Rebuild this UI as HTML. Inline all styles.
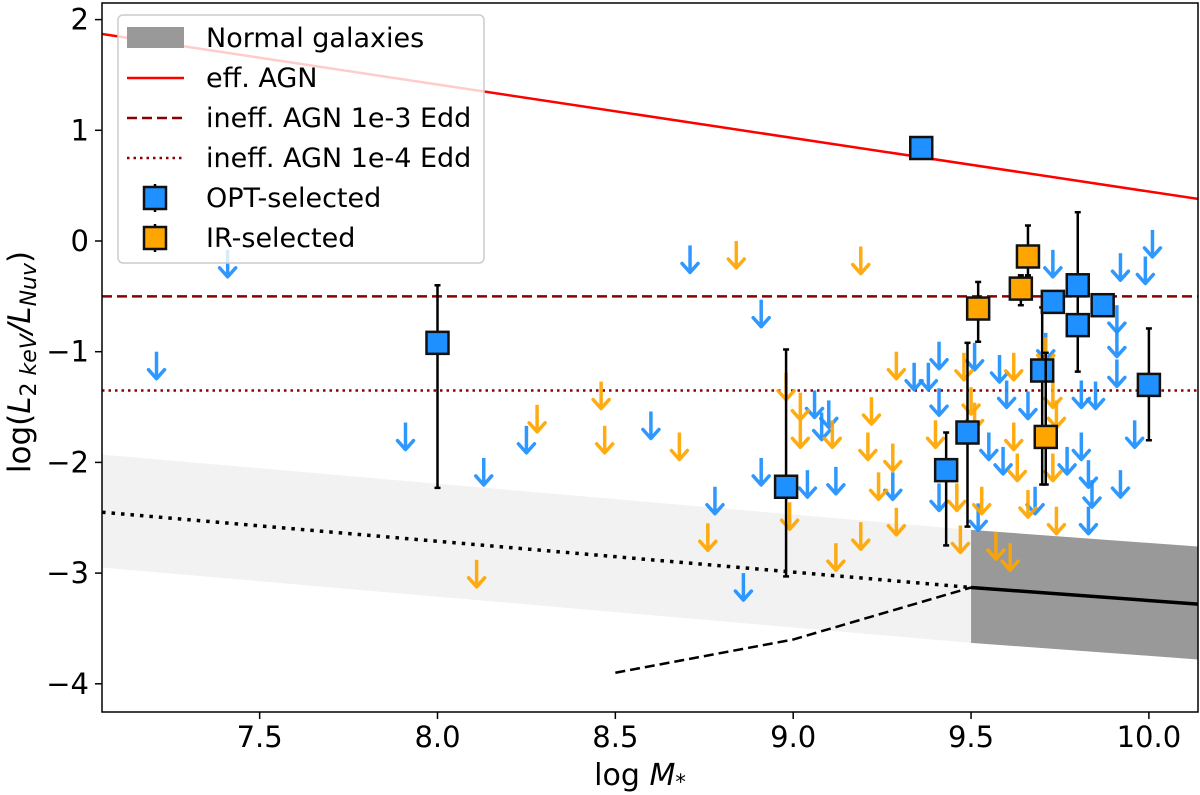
<!DOCTYPE html>
<html><head><meta charset="utf-8"><style>
body{margin:0;background:#fff}
svg text{font-family:"DejaVu Sans","Liberation Sans",sans-serif;fill:#000}
</style></head><body>
<svg id="chart" width="1200" height="795" viewBox="0 0 1200 795" xmlns="http://www.w3.org/2000/svg" style="position:absolute;left:0;top:0">
<defs><clipPath id="clip"><rect x="102" y="3" width="1096" height="709"/></clipPath></defs>
<g id="plot" clip-path="url(#clip)"></g>
<g id="axes"></g>
</svg>
<script>
const xTicks=[7.5,8.0,8.5,9.0,9.5,10.0];
const yTicks=[2,1,0,-1,-2,-3,-4];
const blueLimX=[7.21,7.41,7.91,8.13,8.25,8.60,8.71,8.78,8.91,8.91,9.04,9.12,9.06,9.10,9.08,8.86,9.28,9.34,9.38,9.41,9.41,9.41,9.51,9.55,9.52,9.58,9.60,9.59,9.66,9.68,9.71,9.73,9.77,9.81,9.81,9.83,9.84,9.85,9.83,9.92,9.91,9.91,9.91,9.96,9.92,9.99,10.01];
const blueLimY=[-1.00,-0.08,-1.64,-1.96,-1.67,-1.54,-0.04,-2.22,-0.53,-1.96,-2.07,-2.04,-1.35,-1.44,-1.55,-3.00,-2.09,-1.10,-1.10,-0.91,-1.33,-2.19,-0.92,-1.73,-2.37,-1.03,-1.26,-1.86,-1.36,-2.22,-0.83,-0.08,-1.86,-1.26,-1.73,-1.98,-2.16,-1.27,-2.40,-0.11,-0.58,-0.80,-1.07,-1.62,-2.07,-0.14,0.10];
const orangeLimX=[8.28,8.46,8.47,8.11,8.84,9.19,8.68,8.76,8.98,9.02,9.02,9.11,9.12,9.19,9.22,9.21,9.24,9.28,9.29,9.29,9.40,9.46,9.47,9.48,9.50,9.51,9.53,9.57,9.61,9.62,9.62,9.63,9.66,9.71,9.73,9.74,9.73,9.74,8.99];
const orangeLimY=[-1.48,-1.27,-1.67,-2.88,0.00,-0.05,-1.73,-2.55,-1.19,-1.37,-1.62,-1.62,-2.73,-2.54,-1.41,-1.73,-2.09,-1.83,-1.00,-2.41,-1.62,-2.19,-2.57,-1.01,-1.32,-1.46,-2.22,-2.63,-2.73,-1.01,-1.64,-1.92,-2.25,-0.87,-1.26,-1.44,-1.92,-2.40,-2.36];
const blueX=[8.00,9.36,8.98,9.43,9.49,9.70,9.73,9.80,9.80,9.87,10.00];
const blueY=[-0.92,0.84,-2.22,-2.07,-1.73,-1.17,-0.55,-0.40,-0.76,-0.58,-1.30];
const blueHi=[-0.40,null,-0.98,-1.73,-0.92,-0.60,null,0.26,null,null,-0.79];
const blueLo=[-2.23,null,-3.03,-2.75,-2.58,-2.20,null,-1.18,null,null,-1.80];
const orangeX=[9.52,9.64,9.66,9.71];
const orangeY=[-0.61,-0.43,-0.14,-1.77];
const orangeHi=[-0.37,-0.31,0.14,-1.01];
const orangeLo=[-0.91,-0.58,-0.31,-2.20];
const xLimits=[7.057,10.138];
const effAGN=[1.87,0.38];
const ineff3=-0.5, ineff4=-1.35;
const bandLightX=[7.057,9.5];
const bandLightTop=[-1.93,-2.61];
const bandLightBot=[-2.95,-3.63];
const bandDarkX=[9.5,10.138];
const bandDarkTop=[-2.61,-2.76];
const bandDarkBot=[-3.63,-3.78];
const solidX=[9.5,10.138], solidY=[-3.13,-3.28];
const dotX=[7.057,9.5], dotY=[-2.45,-3.13];
const dashX=[8.5,9.0,9.5], dashY=[-3.9,-3.6,-3.13];

const X=v=>437.5+(v-8)*355.7;
const Y=v=>241-v*110.7;
const NS='http://www.w3.org/2000/svg';
function mk(tag,attrs,parent){const e=document.createElementNS(NS,tag);for(const k in attrs)e.setAttribute(k,attrs[k]);parent.appendChild(e);return e;}
const plot=document.getElementById('plot'),axes=document.getElementById('axes');

let e;
e=mk('polygon',{points:`${X(bandLightX[0])},${Y(bandLightTop[0])} ${X(bandLightX[1])},${Y(bandLightTop[1])} ${X(bandLightX[1])},${Y(bandLightBot[1])} ${X(bandLightX[0])},${Y(bandLightBot[0])}`,fill:'#f2f2f2'},plot);


e=mk('polygon',{points:`${X(bandDarkX[0])},${Y(bandDarkTop[0])} ${X(bandDarkX[1])},${Y(bandDarkTop[1])} ${X(bandDarkX[1])},${Y(bandDarkBot[1])} ${X(bandDarkX[0])},${Y(bandDarkBot[0])}`,fill:'#999999'},plot);


e=mk('line',{x1:X(xLimits[0]),y1:Y(effAGN[0]),x2:X(xLimits[1]),y2:Y(effAGN[1]),stroke:'#ff0000','stroke-width':2.5},plot);


e=mk('line',{x1:102,y1:Y(ineff3),x2:1198,y2:Y(ineff3),stroke:'#8b0000','stroke-width':2.5,'stroke-dasharray':'10 5'},plot);


e=mk('line',{x1:102,y1:Y(ineff4),x2:1198,y2:Y(ineff4),stroke:'#8b0000','stroke-width':2.5,'stroke-dasharray':'2.5 4'},plot);


e=mk('polyline',{points:solidX.map((v,i)=>X(v)+','+Y(solidY[i])).join(' '),fill:'none',stroke:'#000','stroke-width':3.5},plot);


e=mk('polyline',{points:dotX.map((v,i)=>X(v)+','+Y(dotY[i])).join(' '),fill:'none',stroke:'#000','stroke-width':3.5,'stroke-dasharray':'3.5 6'},plot);


e=mk('polyline',{points:dashX.map((v,i)=>X(v)+','+Y(dashY[i])).join(' '),fill:'none',stroke:'#000','stroke-width':2.5,'stroke-dasharray':'10 5'},plot);



function arrow(xv,yv,col){
  const x=X(xv),y=Y(yv);
  const g=mk('g',{opacity:0.92},plot);
  
  
  mk('line',{x1:x,y1:y,x2:x,y2:y+26,stroke:col,'stroke-width':3.5},g);
  mk('polyline',{points:`${x-8},${y+18} ${x},${y+27} ${x+8},${y+18}`,fill:'none',stroke:col,'stroke-width':3.5,'stroke-linecap':'round','stroke-linejoin':'round'},g);
}
blueLimX.forEach((v,i)=>arrow(v,blueLimY[i],'#1e90ff'));
orangeLimX.forEach((v,i)=>arrow(v,orangeLimY[i],'#ffa500'));

function sq(xs,ys,hi,lo,col,name){
  xs.forEach((v,i)=>{
    const x=X(v),y=Y(ys[i]);
    const g=mk('g',{},plot);
    
    
    if(hi[i]!==null){
      mk('line',{x1:x,y1:Y(hi[i]),x2:x,y2:Y(lo[i]),stroke:'#000','stroke-width':2.5},g);
      mk('line',{x1:x-3,y1:Y(hi[i]),x2:x+3,y2:Y(hi[i]),stroke:'#000','stroke-width':2.5},g);
      mk('line',{x1:x-3,y1:Y(lo[i]),x2:x+3,y2:Y(lo[i]),stroke:'#000','stroke-width':2.5},g);
    }
    mk('rect',{x:x-11,y:y-11,width:22,height:22,fill:col,stroke:'#111','stroke-width':2.5},g);
  });
}
sq(blueX,blueY,blueHi,blueLo,'#1e90ff','opt-selected-point');
sq(orangeX,orangeY,orangeHi,orangeLo,'#ffa500','ir-selected-point');

e=mk('rect',{x:102,y:3,width:1096,height:709,fill:'none',stroke:'#000','stroke-width':1.5},axes);


xTicks.forEach(v=>{
  mk('line',{x1:X(v),y1:712,x2:X(v),y2:719,stroke:'#000','stroke-width':1.5},axes);
  const t=mk('text',{x:X(v),y:747,'text-anchor':'middle','font-size':29},axes);
  t.textContent=v.toFixed(1);
  
  
});
yTicks.forEach(v=>{
  mk('line',{x1:95,y1:Y(v),x2:102,y2:Y(v),stroke:'#000','stroke-width':1.5},axes);
  const t=mk('text',{x:89,y:Y(v)+10,'text-anchor':'end','font-size':29},axes);
  t.textContent=v<0?'\u2212'+Math.abs(v):String(v);
  
  
});
</script>
<svg style="position:absolute;left:0;top:0" width="1200" height="795">
<text x="640" y="785" text-anchor="middle" font-size="30">log <tspan font-style="italic">M</tspan><tspan font-size="21" dy="4">*</tspan></text>
<text transform="translate(30,362) rotate(-90)" text-anchor="middle" font-size="31">log(<tspan font-style="italic">L</tspan><tspan font-size="22" dy="6">2 </tspan><tspan font-size="22" font-style="italic">keV</tspan><tspan dy="-6" font-style="italic">/L</tspan><tspan font-size="22" dy="6" font-style="italic">Nuv</tspan><tspan dy="-6">)</tspan></text>
<g>
<rect x="118" y="15" width="366" height="248" rx="5" fill="#fff" fill-opacity="0.8" stroke="#ccc" stroke-width="1.5"/>
<g><rect x="127" y="27" width="57" height="21" fill="#999"/><text x="206" y="47" font-size="27">Normal galaxies</text></g>
<g><line x1="127" y1="78" x2="184" y2="78" stroke="#f00" stroke-width="2.5"/><text x="206" y="87" font-size="27">eff. AGN</text></g>
<g><line x1="127" y1="118" x2="184" y2="118" stroke="#8b0000" stroke-width="2.5" stroke-dasharray="10 5"/><text x="206" y="127" font-size="27">ineff. AGN 1e-3 Edd</text></g>
<g><line x1="127" y1="158" x2="184" y2="158" stroke="#8b0000" stroke-width="2.5" stroke-dasharray="2.5 4"/><text x="206" y="167" font-size="27">ineff. AGN 1e-4 Edd</text></g>
<g><line x1="155" y1="184" x2="155" y2="212" stroke="#000" stroke-width="2.5"/><rect x="144" y="187" width="22" height="22" fill="#1e90ff" stroke="#111" stroke-width="2.5"/><text x="206" y="207" font-size="27">OPT-selected</text></g>
<g><line x1="155" y1="224" x2="155" y2="252" stroke="#000" stroke-width="2.5"/><rect x="144" y="227" width="22" height="22" fill="#ffa500" stroke="#111" stroke-width="2.5"/><text x="206" y="247" font-size="27">IR-selected</text></g>
</g>
</svg>
</body></html>
